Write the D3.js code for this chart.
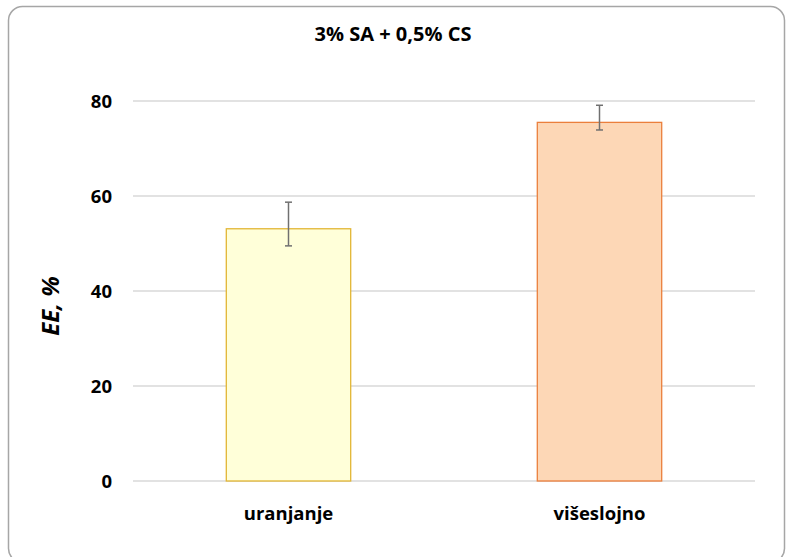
<!DOCTYPE html>
<html><head><meta charset="utf-8">
<script src="https://cdn.jsdelivr.net/npm/d3@7"></script>
<style>body{margin:0;background:#fff}svg{display:block}text{font-family:"Open Sans",sans-serif;font-weight:bold;fill:#000}</style>
</head><body><svg id="c" width="786" height="557"></svg>
<script>
const categories = ["uranjanje", "višeslojno"];
const values = [53.1, 75.5];
const errLow = [49.5, 73.9];
const errHigh = [58.7, 79.1];
const yTicks = [0, 20, 40, 60, 80];
const fills = ["#FFFFD9", "#FDD7B6"];
const strokes = ["#E2B634", "#EB7F3C"];
const title = "3% SA + 0,5% CS";
const yLabel = "EE, %";

const FONT = "'Open Sans', sans-serif";
const svg = d3.select("#c");
svg.append("rect").attr("x", 8.5).attr("y", 6.5).attr("width", 776).attr("height", 556)
  .attr("rx", 14).attr("fill", "#fff").attr("stroke", "#a6a6a6").attr("stroke-width", 1.5);

const x = d3.scaleBand().domain(categories).range([133, 755]).paddingInner(0.6).paddingOuter(0.3);
const y = d3.scaleLinear().domain([0, 80]).range([481, 101]);

const g = svg.append("g");
g.selectAll("line.grid").data(yTicks).join("line")
  .attr("x1", 133).attr("x2", 755).attr("y1", d => y(d)).attr("y2", d => y(d))
  .attr("stroke", "#d9d9d9").attr("stroke-width", 1.3);

const yAxis = d3.axisLeft(y).tickValues(yTicks).tickSize(0).tickPadding(0);
const ya = svg.append("g").attr("transform", "translate(112,0)").call(yAxis)
  .attr("font-family", FONT).attr("font-size", 18.5);
ya.select(".domain").remove();
ya.selectAll("text").attr("dy", "0.36em").attr("font-weight", "bold");

g.selectAll("rect.bar").data(values).join("rect")
  .attr("x", (d, i) => x(categories[i])).attr("width", x.bandwidth())
  .attr("y", d => y(d)).attr("height", d => y(0) - y(d))
  .attr("fill", (d, i) => fills[i]).attr("stroke", (d, i) => strokes[i]).attr("stroke-width", 1.3);

const eb = g.selectAll("g.err").data(values).join("g")
  .attr("transform", (d, i) => `translate(${x(categories[i]) + x.bandwidth() / 2},0)`);
eb.append("line").attr("y1", (d, i) => y(errLow[i])).attr("y2", (d, i) => y(errHigh[i])).attr("stroke", "#707070").attr("stroke-width", 1.5);
eb.append("line").attr("x1", -3.5).attr("x2", 3.5).attr("y1", (d, i) => y(errLow[i])).attr("y2", (d, i) => y(errLow[i])).attr("stroke", "#707070").attr("stroke-width", 1.5);
eb.append("line").attr("x1", -3.5).attr("x2", 3.5).attr("y1", (d, i) => y(errHigh[i])).attr("y2", (d, i) => y(errHigh[i])).attr("stroke", "#707070").attr("stroke-width", 1.5);

const xAxis = d3.axisBottom(x).tickSize(0).tickPadding(0);
const xa = svg.append("g").attr("transform", "translate(0,520)").call(xAxis)
  .attr("font-family", FONT).attr("font-size", 18.5);
xa.select(".domain").remove();
xa.selectAll("text").attr("dy", 0).attr("font-weight", "bold");

svg.append("text").attr("x", 393).attr("y", 41).attr("text-anchor", "middle").attr("font-size", 20).text(title);
svg.append("text").attr("transform", "translate(59,306) rotate(-90)").attr("text-anchor", "middle")
  .attr("font-size", 24).attr("font-style", "italic").text(yLabel);
</script></body></html>
